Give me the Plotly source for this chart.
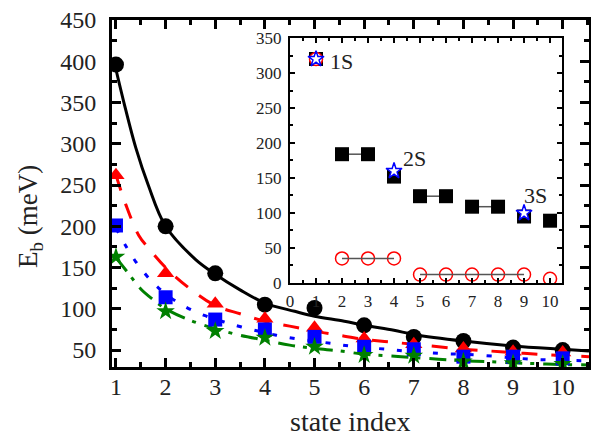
import plotly.graph_objects as go

# ---------------- data: main panel ----------------
state = [1, 2, 3, 4, 5, 6, 7, 8, 9, 10]
eb_circle = [396, 200, 143, 105, 101, 80, 66, 61, 53, 50]
eb_triangle = [262, 143, 106, 88, 77, 64, 57, 52, 48, 47]
eb_square = [201, 114, 87, 75, 66, 54, 51, 42, 42, 40]
eb_star = [163, 97, 73, 65, 54, 44, 43, 36, 34, 33]

# fitted curves
fit_black_n = [1.0, 1.16, 1.4, 1.65, 2.0, 2.6, 3.0, 3.5, 4.0, 4.6, 5.0, 5.6, 6.0, 6.6, 7.0, 8.0, 9.0, 10.0, 10.53]
fit_black = [390, 350, 295, 250, 200, 160, 142, 123, 107, 97, 91, 85, 80, 74, 69, 61, 55, 51, 49]
fit_red_n = [1.0, 1.2, 1.46, 1.65, 2.0, 2.5, 3.0, 3.5, 4.0, 4.5, 5.0, 5.5, 6.0, 6.5, 7.0, 7.5, 8.0, 8.5, 9.0, 9.5, 10.0, 10.53]
fit_red = [262, 226, 189, 174, 150, 124, 104, 94, 85, 79, 73, 68, 63, 60, 57, 54, 51, 49, 47, 45, 43.5, 42]
fit_blue_n = [1.0, 1.18, 1.4, 1.71, 2.0, 2.41, 2.78, 3.18, 3.53, 4.23, 4.6, 5.35, 5.7, 6.45, 6.8, 7.52, 8.27, 9.35, 9.73, 10.53]
fit_blue = [198, 178, 157, 134, 118, 102, 92, 84, 78, 68, 64, 58, 55, 51, 49, 46, 44, 39, 38, 37]
fit_green_n = [1.0, 1.25, 1.5, 1.75, 2.0, 2.5, 3.0, 3.5, 4.0, 4.5, 5.0, 5.5, 6.0, 6.5, 7.0, 7.5, 8.0, 8.5, 9.0, 9.5, 10.0, 10.53]
fit_green = [162, 143, 124, 111, 100, 86, 76, 68, 62, 56, 52, 49, 45, 43, 41, 39, 37, 36, 34.5, 33.5, 32.5, 32]

# ---------------- data: inset ----------------
inset_state = [1, 2, 3, 4, 5, 6, 7, 8, 9, 10]
inset_square = [320, 184, 184, 152, 124, 124, 109, 109, 95, 89]
inset_circle = [320, 35, 35, 35, 12, 12, 12, 12, 12, 6]
star_state = [1, 4, 9]
star_value = [320, 160, 100]
star_labels = ["1S", "2S", "3S"]
square_groups = [[2, 3], [5, 6], [7, 8]]
circle_groups = [[2, 3, 4], [5, 6, 7, 8, 9]]

FONT = "Liberation Serif, Times New Roman, Times, serif"
TXT = "#222222"
RED, BLUE, GREEN = "#ff0000", "#0000ff", "#008000"

fig = go.Figure()

# fitted lines
fig.add_trace(go.Scatter(x=fit_black_n, y=fit_black, mode="lines", line=dict(color="black", width=3, shape="spline")))
fig.add_trace(go.Scatter(x=fit_red_n, y=fit_red, mode="lines", line=dict(color=RED, width=3, dash="16px,14px", shape="spline")))
fig.add_trace(go.Scatter(x=fit_blue_n, y=fit_blue, mode="lines", line=dict(color=BLUE, width=3, dash="5px,13px", shape="spline")))
fig.add_trace(go.Scatter(x=fit_green_n, y=fit_green, mode="lines", line=dict(color=GREEN, width=3, dash="17px,8px,4px,9px", shape="spline")))

# markers
fig.add_trace(go.Scatter(x=state, y=eb_circle, mode="markers", marker=dict(symbol="circle", size=16, color="black", line=dict(width=0))))
fig.add_trace(go.Scatter(x=state, y=eb_triangle, mode="markers", marker=dict(symbol="triangle-up", size=15, color=RED, line=dict(width=0))))
fig.add_trace(go.Scatter(x=state, y=eb_square, mode="markers", marker=dict(symbol="square", size=14, color=BLUE, line=dict(width=0))))
fig.add_trace(go.Scatter(x=state, y=eb_star, mode="markers", marker=dict(symbol="star", size=14, color=GREEN, line=dict(width=0))))


def group_xy(groups, xs, ys):
    gx, gy = [], []
    lookup = dict(zip(xs, ys))
    for g in groups:
        gx += g + [None]
        gy += [lookup[v] for v in g] + [None]
    return gx, gy


sqx, sqy = group_xy(square_groups, inset_state, inset_square)
fig.add_trace(go.Scatter(x=sqx, y=sqy, mode="lines", line=dict(color="#555555", width=1.5), xaxis="x2", yaxis="y2"))
fig.add_trace(go.Scatter(x=inset_state, y=inset_square, mode="markers", marker=dict(symbol="square", size=14, color="black", line=dict(width=0)), xaxis="x2", yaxis="y2"))
fig.add_trace(go.Scatter(x=inset_state, y=inset_circle, mode="markers", marker=dict(symbol="circle", size=13, color="white", line=dict(color=RED, width=1.5)), xaxis="x2", yaxis="y2"))
cx, cy = group_xy(circle_groups, inset_state, inset_circle)
fig.add_trace(go.Scatter(x=cx, y=cy, mode="lines", line=dict(color="#555555", width=1.5), xaxis="x2", yaxis="y2"))
fig.add_trace(go.Scatter(x=star_state, y=star_value, mode="markers", marker=dict(symbol="star", size=12, color="white", line=dict(color=BLUE, width=1.5)), xaxis="x2", yaxis="y2"))

label_pos = [(1.45, 317), (4.25, 178), (8.93, 125)]
for txt, (lx, ly) in zip(star_labels, label_pos):
    fig.add_annotation(x=lx, y=ly, xref="x2", yref="y2", text=txt, showarrow=False, xanchor="left", yanchor="middle",
                       font=dict(family=FONT, size=22, color=TXT))

axis_common = dict(showline=True, linecolor="black", mirror="allticks", ticks="inside", showgrid=False, zeroline=False,
                   tickcolor="black", automargin=False)

fig.update_layout(
    width=591, height=436,
    margin=dict(l=112, r=2, t=20, b=69, autoexpand=False),
    paper_bgcolor="white", plot_bgcolor="white",
    showlegend=False,
    font=dict(family=FONT, color=TXT),
    xaxis=dict(**axis_common, domain=[0, 1], range=[0.92, 10.53], linewidth=3, tickwidth=2.5, ticklen=9,
               tick0=0, dtick=1, tickfont=dict(size=24, family=FONT, color=TXT), ticklabelstandoff=-4,
               minor=dict(ticks="inside", ticklen=5, tickwidth=2.5, dtick=0.5, tickcolor="black")),
    yaxis=dict(**axis_common, domain=[0, 1], range=[29.5, 450], linewidth=3, tickwidth=2.5, ticklen=9,
               tick0=0, dtick=50, tickfont=dict(size=24, family=FONT, color=TXT), ticklabelstandoff=8,
               minor=dict(ticks="inside", ticklen=5, tickwidth=2.5, dtick=25, tickcolor="black")),
    xaxis2=dict(**axis_common, anchor="y2", domain=[0.3732, 0.9434], range=[0, 10.46], linewidth=2, tickwidth=1.5,
                ticklen=5, tick0=0, dtick=1, tickfont=dict(size=17, family=FONT, color=TXT), ticklabelstandoff=2,
                minor=dict(ticks="inside", ticklen=3, tickwidth=1.5, dtick=0.5, tickcolor="black")),
    yaxis2=dict(**axis_common, anchor="x2", domain=[0.2421, 0.9481], range=[0, 350], linewidth=2, tickwidth=1.5,
                ticklen=5, tick0=0, dtick=50, tickfont=dict(size=17, family=FONT, color=TXT), ticklabelstandoff=3,
                minor=dict(ticks="inside", ticklen=3, tickwidth=1.5, dtick=25, tickcolor="black")),
)

fig.add_annotation(x=(30 - 112) / 477, y=(367 - 217) / 347, xref="paper", yref="paper", text="E<sub>b</sub> (meV)",
                   textangle=-90, showarrow=False, xanchor="center", yanchor="middle",
                   font=dict(family=FONT, size=27, color=TXT))
fig.add_annotation(x=0.5, y=(367 - 421) / 347, xref="paper", yref="paper", text="state index",
                   showarrow=False, xanchor="center", yanchor="middle",
                   font=dict(family=FONT, size=28, color=TXT))

fig.write_html("out.html", config={"displayModeBar": False},
               post_script="document.body.style.margin='0';document.body.style.padding='0';")
